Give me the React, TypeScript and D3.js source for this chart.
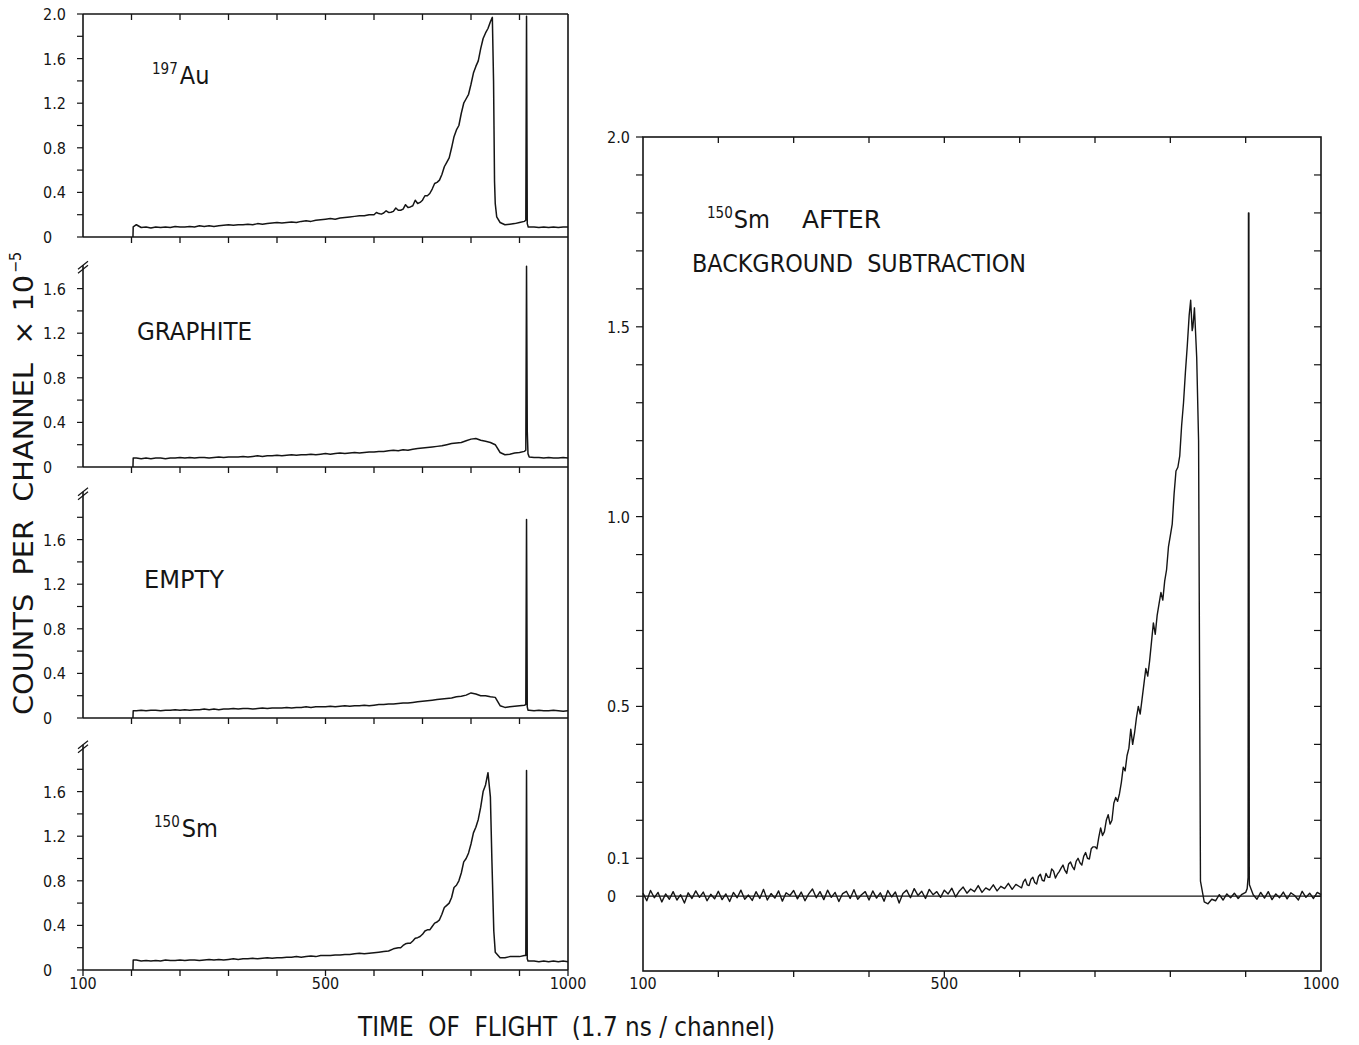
import { useEffect, useRef } from "react";
import * as d3 from "d3";

const WIDTH = 1359;
const HEIGHT = 1045;
const FONT = "'DejaVu Sans Condensed', 'DejaVu Sans', 'Liberation Sans Narrow', sans-serif";
const INK = "#151515";

// channel grid of the four stacked spectra (every 10th channel)
const leftChannels = d3.range(110, 1001, 10);
// channel grid of the subtracted spectrum (every 5th channel)
const rightChannels = d3.range(100, 1001, 5);

// counts per channel x 1e-5
const auCounts = [
  0.11, 0.085, 0.09, 0.08, 0.09, 0.085, 0.09, 0.085, 0.095, 0.09,
  0.09, 0.095, 0.09, 0.1, 0.095, 0.1, 0.095, 0.1, 0.105, 0.11,
  0.105, 0.11, 0.11, 0.115, 0.11, 0.12, 0.115, 0.12, 0.125, 0.13,
  0.125, 0.13, 0.135, 0.13, 0.14, 0.145, 0.14, 0.15, 0.155, 0.16,
  0.165, 0.16, 0.17, 0.175, 0.18, 0.185, 0.19, 0.19, 0.2, 0.2,
  0.21, 0.215, 0.22, 0.23, 0.24, 0.25, 0.265, 0.28, 0.3, 0.33,
  0.37, 0.43, 0.49, 0.56, 0.67, 0.8, 0.96, 1.11, 1.24, 1.37,
  1.53, 1.69, 1.83, 1.93, 0.3, 0.13, 0.11, 0.115, 0.12, 0.13,
  0.14, 0.09, 0.09, 0.085, 0.09, 0.085, 0.09, 0.085, 0.09, 0.09,
];
const auFeatures: [number, number][] = [
  [103, 0], [103.5, 0.09],
  [605, 0.22], [615, 0.205], [625, 0.235], [635, 0.222], [645, 0.26], [655, 0.24],
  [665, 0.29], [675, 0.27], [685, 0.33], [695, 0.31], [705, 0.37], [715, 0.39],
  [725, 0.48], [735, 0.51], [745, 0.63], [755, 0.71], [765, 0.9], [775, 1.0],
  [785, 1.2], [795, 1.28], [805, 1.47], [815, 1.58], [825, 1.78], [835, 1.87],
  [844, 1.97], [846.5, 1.4], [848.5, 0.5], [853, 0.18],
  [913, 0.15], [914.5, 1.98], [916, 0.12], [918, 0.09],
];

const graphiteCounts = [
  0.08, 0.075, 0.08, 0.075, 0.08, 0.08, 0.075, 0.08, 0.08, 0.085,
  0.08, 0.085, 0.08, 0.085, 0.085, 0.08, 0.085, 0.09, 0.085, 0.09,
  0.09, 0.09, 0.095, 0.09, 0.095, 0.1, 0.095, 0.1, 0.1, 0.105,
  0.1, 0.105, 0.11, 0.105, 0.11, 0.11, 0.115, 0.11, 0.115, 0.12,
  0.115, 0.12, 0.125, 0.12, 0.125, 0.13, 0.125, 0.13, 0.135, 0.135,
  0.14, 0.14, 0.145, 0.15, 0.145, 0.155, 0.15, 0.16, 0.165, 0.17,
  0.175, 0.18, 0.185, 0.19, 0.2, 0.21, 0.215, 0.22, 0.235, 0.25,
  0.255, 0.24, 0.23, 0.22, 0.2, 0.13, 0.11, 0.115, 0.125, 0.13,
  0.14, 0.09, 0.085, 0.085, 0.08, 0.085, 0.08, 0.08, 0.085, 0.08,
];
const graphiteFeatures: [number, number][] = [
  [103, 0], [103.5, 0.08], [913, 0.15], [914.5, 1.8], [916, 0.32], [917.5, 0.12],
];

const emptyCounts = [
  0.065, 0.07, 0.065, 0.07, 0.07, 0.065, 0.07, 0.07, 0.075, 0.07,
  0.075, 0.07, 0.075, 0.075, 0.08, 0.075, 0.08, 0.075, 0.08, 0.08,
  0.085, 0.08, 0.085, 0.085, 0.08, 0.085, 0.09, 0.085, 0.09, 0.09,
  0.09, 0.095, 0.09, 0.095, 0.095, 0.1, 0.095, 0.1, 0.1, 0.1,
  0.105, 0.1, 0.105, 0.11, 0.105, 0.11, 0.11, 0.115, 0.11, 0.115,
  0.12, 0.12, 0.125, 0.125, 0.13, 0.135, 0.135, 0.14, 0.145, 0.15,
  0.155, 0.16, 0.165, 0.17, 0.175, 0.18, 0.19, 0.195, 0.205, 0.225,
  0.215, 0.2, 0.2, 0.19, 0.185, 0.11, 0.095, 0.1, 0.105, 0.11,
  0.115, 0.07, 0.065, 0.07, 0.065, 0.065, 0.07, 0.065, 0.06, 0.065,
];
const emptyFeatures: [number, number][] = [
  [103, 0], [103.5, 0.065], [913, 0.12], [914.5, 1.78], [916, 0.1], [917.5, 0.07],
];

const smCounts = [
  0.09, 0.08, 0.085, 0.08, 0.085, 0.08, 0.09, 0.085, 0.085, 0.09,
  0.085, 0.09, 0.09, 0.085, 0.09, 0.095, 0.09, 0.095, 0.09, 0.095,
  0.1, 0.095, 0.1, 0.1, 0.105, 0.1, 0.105, 0.11, 0.105, 0.11,
  0.11, 0.115, 0.115, 0.12, 0.115, 0.12, 0.125, 0.12, 0.13, 0.13,
  0.13, 0.135, 0.135, 0.14, 0.14, 0.145, 0.15, 0.145, 0.15, 0.155,
  0.16, 0.165, 0.17, 0.19, 0.2, 0.22, 0.24, 0.26, 0.29, 0.32,
  0.36, 0.39, 0.43, 0.5, 0.58, 0.65, 0.76, 0.87, 1.0, 1.13,
  1.28, 1.46, 1.66, 1.55, 0.16, 0.11, 0.11, 0.12, 0.12, 0.12,
  0.13, 0.08, 0.08, 0.075, 0.08, 0.075, 0.08, 0.075, 0.08, 0.075,
];
const smFeatures: [number, number][] = [
  [103, 0], [103.5, 0.09],
  [655, 0.2], [665, 0.235], [675, 0.24], [685, 0.285], [695, 0.3], [705, 0.35],
  [715, 0.36], [725, 0.42], [735, 0.45], [745, 0.56], [755, 0.6], [765, 0.74],
  [775, 0.8], [785, 0.97], [795, 1.05], [805, 1.23], [815, 1.35], [825, 1.6],
  [835, 1.77], [843, 1.0], [847, 0.35],
  [913, 0.13], [914.5, 1.79], [916, 0.1], [917.5, 0.08],
];

// 150Sm after background subtraction
const subtractedCounts = [
  0.008, -0.012, 0.015, -0.004, 0.01, -0.015, 0.006, -0.008, 0.012, -0.01, 0.004, -0.018, 0.009, -0.006, 0.014, -0.003, 0.011, -0.012, 0.005, -0.007,
  0.013, -0.009, 0.006, -0.014, 0.01, -0.004, 0.016, -0.008, 0.003, -0.011, 0.012, -0.006, 0.018, -0.01, 0.007, -0.005, 0.014, -0.013, 0.009, 0.002,
  0.015, -0.007, 0.011, -0.012, 0.006, 0.019, -0.004, 0.012, -0.009, 0.016, -0.003, 0.01, -0.014, 0.007, 0.013, -0.006, 0.017, -0.008, 0.004, 0.012,
  -0.01, 0.014, -0.005, 0.009, -0.013, 0.015, -0.002, 0.011, -0.018, 0.007, 0.016, -0.004, 0.02, 0.002, 0.013, -0.006, 0.018, 0.004, 0.012, -0.003,
  0.016, 0.006, 0.021, -0.002, 0.014, 0.024, 0.008, 0.019, 0.012, 0.028, 0.01, 0.022, 0.016, 0.03, 0.014, 0.026, 0.02, 0.034, 0.018, 0.031,
  0.025, 0.038, 0.03, 0.045, 0.036, 0.052, 0.042, 0.06, 0.05, 0.066, 0.058, 0.074, 0.068, 0.085, 0.078, 0.092, 0.088, 0.105, 0.1, 0.125,
  0.13, 0.155, 0.16, 0.2, 0.19, 0.245, 0.25, 0.3, 0.33, 0.39, 0.4, 0.47, 0.48, 0.56, 0.58, 0.67, 0.69, 0.77, 0.78, 0.86,
  0.95, 1.06, 1.13, 1.24, 1.38, 1.53, 1.5, 1.42, 0.04, -0.015, -0.02, -0.008, -0.012, 0.004, -0.01, 0.006, -0.004, 0.008, -0.006, 0.005,
  0.01, 0.03, 0.004, -0.008, 0.01, -0.005, 0.012, -0.009, 0.006, -0.004, 0.011, -0.007, 0.009, 0.002, -0.01, 0.013, -0.003, 0.008, -0.006, 0.01,
  0.004,
];
const subtractedFeatures: [number, number][] = [
  [602.5, 0.022], [607.5, 0.045], [612.5, 0.028], [617.5, 0.05], [622.5, 0.032], [627.5, 0.058],
  [632.5, 0.04], [637.5, 0.05], [642.5, 0.072], [647.5, 0.048], [652.5, 0.065], [657.5, 0.082],
  [662.5, 0.06], [667.5, 0.09], [672.5, 0.07], [677.5, 0.1], [682.5, 0.082], [687.5, 0.115],
  [692.5, 0.098], [697.5, 0.13], [702.5, 0.125], [707.5, 0.18], [712.5, 0.17], [717.5, 0.215],
  [722.5, 0.2], [727.5, 0.26], [732.5, 0.27], [737.5, 0.34], [742.5, 0.37], [747.5, 0.44],
  [752.5, 0.43], [757.5, 0.5], [762.5, 0.52], [767.5, 0.6], [772.5, 0.62], [777.5, 0.72],
  [782.5, 0.74], [787.5, 0.8], [792.5, 0.83], [797.5, 0.92], [802.5, 0.98], [807.5, 1.12],
  [812.5, 1.16], [817.5, 1.3], [822.5, 1.45],
  [827, 1.57], [829, 1.49], [832, 1.55], [837.5, 1.2],
  [902, 0.02], [903.2, 0.05], [903.7, 1.8], [904.3, 1.8], [904.8, 0.05],
];

// tick labels
const leftYLabels = [0, 0.4, 0.8, 1.2, 1.6, 2.0];
const rightYLabels = [0, 0.1, 0.5, 1.0, 1.5, 2.0];
const leftXLabels: [number, string][] = [[0, "100"], [500, "500"], [1000, "1000"]];
const rightXLabels: [number, string][] = [[100, "100"], [500, "500"], [1000, "1000"]];

type Panel = {
  counts: number[];
  features: [number, number][];
  y0: number;
  top: number;
  breakAt: number | null;
  maxTick: number;
};

const leftPanels: Panel[] = [
  { counts: auCounts, features: auFeatures, y0: 237, top: 14, breakAt: null, maxTick: 2.0 },
  { counts: graphiteCounts, features: graphiteFeatures, y0: 467, top: 237, breakAt: 1.81, maxTick: 1.6 },
  { counts: emptyCounts, features: emptyFeatures, y0: 718, top: 467, breakAt: 2.03, maxTick: 1.8 },
  { counts: smCounts, features: smFeatures, y0: 970, top: 718, breakAt: 2.02, maxTick: 1.8 },
];

const mergeSeries = (grid: number[], values: number[], extra: [number, number][]) =>
  [...grid.map((c, i) => [c, values[i]] as [number, number]), ...extra].sort((a, b) => a[0] - b[0]);

const App = () => {
  const svgRef = useRef<SVGSVGElement | null>(null);

  useEffect(() => {
    const svg = d3.select(svgRef.current);
    svg.selectAll("*").remove();

    const hLine = (g: any, x1: number, x2: number, y: number, w = 1.6) =>
      g.append("line").attr("x1", x1).attr("x2", x2).attr("y1", y).attr("y2", y)
        .attr("stroke", INK).attr("stroke-width", w);
    const vLine = (g: any, x: number, y1: number, y2: number, w = 1.6) =>
      g.append("line").attr("x1", x).attr("x2", x).attr("y1", y1).attr("y2", y2)
        .attr("stroke", INK).attr("stroke-width", w);
    const label = (g: any, x: number, y: number, size: number, t: string) =>
      g.append("text").attr("x", x).attr("y", y)
        .attr("font-size", size).attr("font-family", FONT).attr("font-stretch", "condensed")
        .attr("fill", INK).style("white-space", "pre").text(t);

    // ---------------- left column ----------------
    const PX_PER_UNIT = 111.5;
    const xLeft = d3.scaleLinear().domain([0, 1000]).range([83, 568]);
    const left = svg.append("g");

    // right border of the stack
    vLine(left, xLeft(1000), leftPanels[0].top, leftPanels[3].y0);

    leftPanels.forEach((p, i) => {
      const y = d3.scaleLinear().domain([0, (p.y0 - p.top) / PX_PER_UNIT]).range([p.y0, p.top]);
      const g = left.append("g");

      // baseline with ticks pointing down
      hLine(g, xLeft(0), xLeft(1000), p.y0);
      const bottomTicks = i === 3 ? d3.range(0, 1001, 100) : d3.range(100, 901, 100);
      bottomTicks.forEach((c) => vLine(g, xLeft(c), p.y0, p.y0 + 6, 1.3));

      if (i === 0) {
        hLine(g, xLeft(0), xLeft(1000), p.top);
        d3.range(100, 901, 100).forEach((c) => vLine(g, xLeft(c), p.top, p.top + 6, 1.3));
      }

      // left axis (broken for the lower panels)
      const axisTop = p.breakAt === null ? p.top : y(p.breakAt);
      vLine(g, xLeft(0), axisTop, p.y0);
      if (p.breakAt !== null) {
        [0, 4].forEach((off) =>
          g.append("line")
            .attr("x1", xLeft(0) - 5).attr("y1", axisTop + 4 + off)
            .attr("x2", xLeft(0) + 5).attr("y2", axisTop - 4 + off)
            .attr("stroke", INK).attr("stroke-width", 1.3)
        );
      }
      d3.range(0, p.maxTick + 0.01, 0.2).forEach((v) => hLine(g, xLeft(0) - 6, xLeft(0), y(v), 1.2));

      leftYLabels.filter((v) => v <= p.maxTick + 0.01 && !(i > 0 && v > 1.7)).forEach((v) =>
        label(g, 43, y(v) + 6, 16, v === 0 ? "0" : v.toFixed(1))
      );

      const series = mergeSeries(leftChannels, p.counts, p.features);
      const line = d3.line<[number, number]>().x((d) => xLeft(d[0])).y((d) => y(d[1]));
      g.append("path")
        .attr("d", line(series) || "")
        .attr("fill", "none").attr("stroke", INK).attr("stroke-width", 1.5)
        .attr("stroke-linejoin", "round");
    });

    leftXLabels.forEach(([c, t]) =>
      label(left, xLeft(c), 989, 16, t).attr("text-anchor", "middle")
    );

    // panel captions
    const au = left.append("text").attr("x", 152).attr("y", 84).attr("font-family", FONT)
      .attr("font-stretch", "condensed").attr("fill", INK);
    au.append("tspan").attr("font-size", 15).attr("dy", -10).text("197");
    au.append("tspan").attr("font-size", 25).attr("dy", 10).attr("dx", 2).text("Au");

    label(left, 137, 340, 25, "GRAPHITE").attr("textLength", 115).attr("lengthAdjust", "spacingAndGlyphs");
    label(left, 144, 588, 25, "EMPTY").attr("textLength", 80).attr("lengthAdjust", "spacingAndGlyphs");

    const sm = left.append("text").attr("x", 154).attr("y", 837).attr("font-family", FONT)
      .attr("font-stretch", "condensed").attr("fill", INK);
    sm.append("tspan").attr("font-size", 15).attr("dy", -10).text("150");
    sm.append("tspan").attr("font-size", 25).attr("dy", 10).attr("dx", 2).text("Sm");

    // ---------------- right panel ----------------
    const xRight = d3.scaleLinear().domain([100, 1000]).range([643, 1321]);
    const yRight = d3.scaleLinear().domain([-0.197, 2.0]).range([971, 137]);
    const right = svg.append("g");

    right.append("rect")
      .attr("x", xRight(100)).attr("y", yRight(2.0))
      .attr("width", xRight(1000) - xRight(100)).attr("height", yRight(-0.197) - yRight(2.0))
      .attr("fill", "none").attr("stroke", INK).attr("stroke-width", 1.6);

    d3.range(200, 901, 100).forEach((c) => {
      vLine(right, xRight(c), yRight(2.0), yRight(2.0) + 6, 1.3);
      vLine(right, xRight(c), yRight(-0.197), yRight(-0.197) + 6, 1.3);
    });
    d3.range(0, 20.5, 1).forEach((k) => {
      const v = k / 10;
      hLine(right, xRight(100) - 7, xRight(100), yRight(v), 1.2);
      if (k < 20) hLine(right, xRight(1000) - 7, xRight(1000), yRight(v), 1.2);
    });

    // zero line
    hLine(right, xRight(100), xRight(1000), yRight(0), 1.2);

    rightYLabels.forEach((v) => label(right, 607, yRight(v) + 6, 16, v === 0 ? "0" : v.toFixed(1)));
    rightXLabels.forEach(([c, t]) =>
      label(right, xRight(c), 989, 16, t).attr("text-anchor", "middle")
    );

    const rightSeries = mergeSeries(rightChannels, subtractedCounts, subtractedFeatures);
    const rightLine = d3.line<[number, number]>().x((d) => xRight(d[0])).y((d) => yRight(d[1]));
    right.append("path")
      .attr("d", rightLine(rightSeries) || "")
      .attr("fill", "none").attr("stroke", INK).attr("stroke-width", 1.4)
      .attr("stroke-linejoin", "round");

    const cap = right.append("text").attr("x", 707).attr("y", 228).attr("font-family", FONT)
      .attr("font-stretch", "condensed").attr("fill", INK);
    cap.append("tspan").attr("font-size", 15).attr("dy", -10).text("150");
    cap.append("tspan").attr("font-size", 25).attr("dy", 10).attr("dx", 1).text("Sm");
    label(right, 802, 228, 25, "AFTER").attr("textLength", 79).attr("lengthAdjust", "spacingAndGlyphs");
    label(right, 692, 272, 25, "BACKGROUND  SUBTRACTION")
      .attr("textLength", 334).attr("lengthAdjust", "spacingAndGlyphs");

    // ---------------- axis titles ----------------
    label(svg, 358, 1036, 26, "TIME  OF  FLIGHT  (1.7 ns / channel)")
      .attr("textLength", 417).attr("lengthAdjust", "spacingAndGlyphs");

    const yTitle = svg.append("text")
      .attr("transform", "translate(33,715) rotate(-90)")
      .attr("font-family", FONT).attr("font-stretch", "condensed").attr("fill", INK)
      .style("white-space", "pre");
    yTitle.append("tspan").attr("font-size", 26).attr("textLength", 440)
      .attr("lengthAdjust", "spacingAndGlyphs").text("COUNTS  PER  CHANNEL  × 10");
    yTitle.append("tspan").attr("font-size", 16).attr("dy", -12).attr("dx", 2).text("−5");
  }, []);

  return (
    <svg
      ref={svgRef}
      width={WIDTH}
      height={HEIGHT}
      style={{ position: "absolute", left: 0, top: 0, background: "#fff" }}
    />
  );
};

export default App;
